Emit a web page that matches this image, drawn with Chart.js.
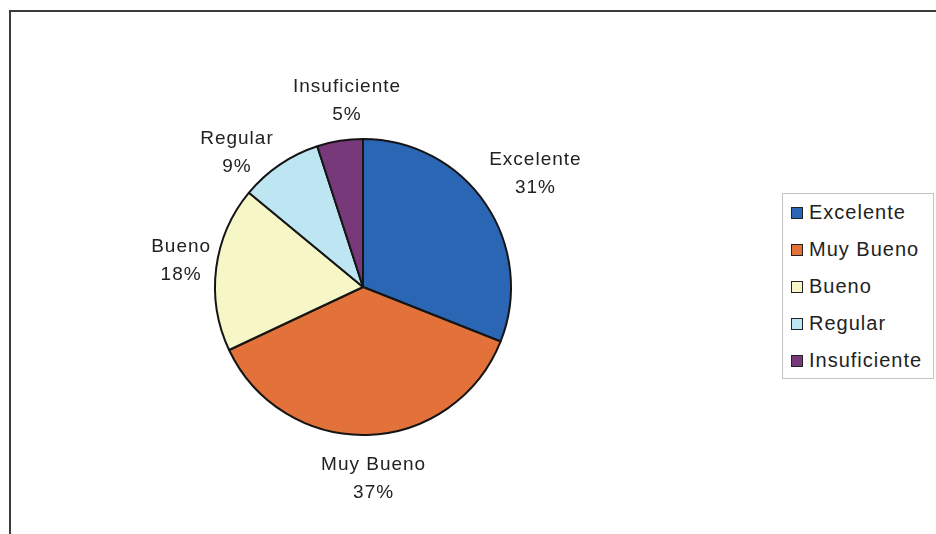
<!DOCTYPE html>
<html lang="es">
<head>
<meta charset="utf-8">
<title>Evaluación</title>
<script src="https://cdn.jsdelivr.net/npm/chart.js@4.4.1/dist/chart.umd.min.js"></script>
<style>
  html, body { margin: 0; padding: 0; background: #fff; width: 936px; height: 534px; overflow: hidden; }
  #marco {
    position: absolute; left: 9px; top: 10px; width: 1000px; height: 1000px;
    border-top: 2px solid #3a3a3a; border-left: 2px solid #3a3a3a;
  }
  #caja { position: absolute; left: 0; top: 0; width: 936px; height: 534px; }
  #leyenda {
    position: absolute; left: 782px; top: 193px; width: 150px; height: 184px;
    border: 1px solid #c4c4c4; background: #fff;
    font-family: "Liberation Sans", Arial, sans-serif; font-size: 20px;
    letter-spacing: 1px; color: #222;
  }
  #leyenda .item { display: flex; align-items: center; height: 37px; }
  #leyenda .cuadro {
    width: 10px; height: 10px; margin: 0 6px 0 8px;
    border: 1px solid #222; box-sizing: content-box;
  }
</style>
</head>
<body>
<div id="marco"></div>
<div id="caja"><canvas id="grafico" width="936" height="534"></canvas></div>
<div id="leyenda"></div>

<script>
"use strict";

/* ── DATOS ─────────────────────────────── */
const categorias = ["Excelente", "Muy Bueno", "Bueno", "Regular", "Insuficiente"];
const valores    = [31, 37, 18, 9, 5];
const colores    = ["#2a66b4", "#e2723a", "#f7f6c6", "#bee6f2", "#77397a"];

/* ── ETIQUETAS FUERA DEL PASTEL ─────────── */
// pequeños ajustes (px) para imitar la colocación de Excel
const ajustes = [[2, 3], [5, 13], [5, -3], [-17, 26], [13, -3]];

const etiquetasFuera = {
  id: "etiquetasFuera",
  afterDatasetsDraw(chart) {
    const ctx   = chart.ctx;
    const meta  = chart.getDatasetMeta(0);
    const datos = chart.data.datasets[0].data;
    const total = datos.reduce((a, b) => a + b, 0);
    const alto  = 28;   // separación entre líneas
    const gap   = 8;

    ctx.save();
    ctx.font = '19px "Liberation Sans", Arial, sans-serif';
    if ("letterSpacing" in ctx) ctx.letterSpacing = "1px";
    ctx.fillStyle = "#222";
    ctx.textAlign = "center";
    ctx.textBaseline = "middle";

    meta.data.forEach((arc, i) => {
      const p   = arc.getProps(["x", "y", "startAngle", "endAngle", "outerRadius"], true);
      const mid = (p.startAngle + p.endAngle) / 2;
      const l1  = chart.data.labels[i];
      const l2  = Math.round(datos[i] / total * 100) + "%";
      const w   = Math.max(ctx.measureText(l1).width, ctx.measureText(l2).width);
      const h   = alto + 14;
      const proj = Math.abs(Math.cos(mid)) * w / 2 + Math.abs(Math.sin(mid)) * h / 2;
      const d   = p.outerRadius + gap + proj;
      const aj  = ajustes[i] || [0, 0];
      const cx  = p.x + Math.cos(mid) * d + aj[0];
      const cy  = p.y + Math.sin(mid) * d + aj[1];
      ctx.fillText(l1, cx, cy - alto / 2);
      ctx.fillText(l2, cx, cy + alto / 2);
    });
    ctx.restore();
  }
};

/* ── GRÁFICO ───────────────────────────── */
const grafico = new Chart(document.getElementById("grafico"), {
  type: "pie",
  data: {
    labels: categorias,
    datasets: [{
      data: valores,
      backgroundColor: colores,
      borderColor: "#151515",
      borderWidth: 2
    }]
  },
  options: {
    responsive: false,
    animation: false,
    layout: { padding: { left: 214, right: 424, top: 138, bottom: 98 } },
    plugins: {
      legend:  { display: false },
      tooltip: { enabled: false }
    }
  },
  plugins: [etiquetasFuera]
});

/* ── LEYENDA (HTML) ────────────────────── */
function armarLeyenda() {
  const cont  = document.getElementById("leyenda");
  const items = Chart.overrides.pie.plugins.legend.labels.generateLabels(grafico);
  cont.innerHTML = "";
  items.forEach(it => {
    const fila = document.createElement("div");
    fila.className = "item";
    fila.innerHTML = `<span class="cuadro" style="background:${it.fillStyle}"></span><span>${it.text}</span>`;
    cont.appendChild(fila);
  });
}

armarLeyenda();
</script>
</body>
</html>
